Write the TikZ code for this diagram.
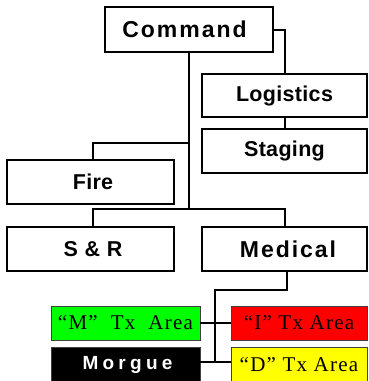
\documentclass[tikz,border=0pt]{standalone}
\usepackage{fontspec}
\setmainfont{Liberation Serif}
\newfontfamily\lsans{Liberation Sans}
\begin{document}
\begin{tikzpicture}[x=1pt,y=-1pt,
  mainbox/.style={draw=black,line width=2pt,fill=white,rectangle,inner sep=0pt,outer sep=0pt},
  colbox/.style={draw=black!75,line width=1pt,rectangle,inner sep=0pt,outer sep=0pt},
  conn/.style={draw=black,line width=2pt},
  ftbig/.style={font=\lsans\bfseries\fontsize{23}{27}\selectfont\addfontfeature{LetterSpace=8.5}},
  ftmid/.style={font=\lsans\bfseries\fontsize{21.5}{25}\selectfont\addfontfeature{LetterSpace=1.5}},
  ftser/.style={font=\fontsize{21}{25}\selectfont\addfontfeature{LetterSpace=6}}
]
\path[use as bounding box,clip] (0,0) rectangle (368,381);

\node[mainbox,ftbig,minimum width=168pt,minimum height=45pt] (Command) at (189,29.5) {Command\hspace*{9pt}};
\node[mainbox,ftmid,minimum width=165pt,minimum height=43pt] (Logistics) at (284.5,95.5) {Logistics};
\node[mainbox,ftmid,minimum width=165pt,minimum height=44pt] (Staging) at (284.5,151) {Staging};
\node[mainbox,ftmid,minimum width=167pt,minimum height=44pt] (Fire) at (90.5,182) {\hspace*{5pt}Fire};
\node[mainbox,minimum width=167pt,minimum height=44pt,font=\lsans\bfseries\fontsize{21.5}{25}\selectfont\addfontfeature{LetterSpace=3}] (SR) at (90.5,249) {\hspace*{5pt}S \& R};
\node[mainbox,ftbig,minimum width=165pt,minimum height=44pt] (Medical) at (284.5,249) {\hspace*{7pt}Medical};

\node[colbox,ftser,fill={rgb,255:red,0;green,255;blue,0},minimum width=149pt,minimum height=34pt] (M) at (125.5,323) {“M”\hspace{6.5pt} Tx\hspace{6.5pt} Area};
\node[colbox,ftser,fill={rgb,255:red,255;green,0;blue,0},minimum width=136pt,minimum height=34pt] (I) at (299,323) {“I” Tx Area};
\node[colbox,fill=black,text=white,minimum width=149pt,minimum height=36pt,font=\lsans\bfseries\fontsize{19}{22}\selectfont\addfontfeature{LetterSpace=22.5}] (Morgue) at (125.5,365) {\hspace*{4pt}Morgue};
\node[colbox,ftser,fill={rgb,255:red,255;green,255;blue,0},minimum width=136pt,minimum height=36pt] (D) at (299,365) {“D” Tx Area};

\coordinate (j1) at (189,143);
\coordinate (j2) at (189,209);
\coordinate (j3) at (215,290);
\coordinate (j4) at (215,362);

\draw[conn] (Command.east) -| (Logistics.north);
\draw[conn] (Logistics.south) -- (Staging.north);
\draw[conn] (Command.south) -- (j2);
\draw[conn] ([xshift=2.5pt]Fire.north) |- (j1);
\draw[conn] ([xshift=2.5pt]SR.north) |- (j2) -| (Medical.north);
\draw[conn] ([xshift=2pt]Medical.south) |- (j3) -- (j4);
\draw[conn] (M.east) -- (I.west);
\draw[conn] (Morgue.east |- j4) -- (D.west |- j4);
\end{tikzpicture}
\end{document}
